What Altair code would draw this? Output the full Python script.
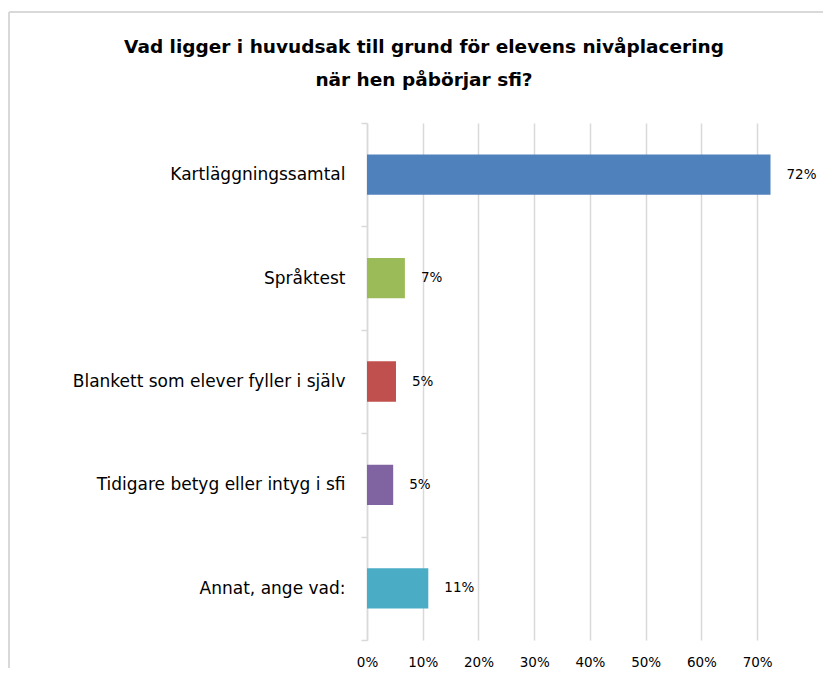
import altair as alt
import pandas as pd

categories = [
    "Kartläggningssamtal",
    "Språktest",
    "Blankett som elever fyller i själv",
    "Tidigare betyg eller intyg i sfi",
    "Annat, ange vad:",
]
values = [0.724, 0.068, 0.052, 0.047, 0.110]
colors = ["#4F81BD", "#9BBB59", "#C0504D", "#8064A2", "#4BACC6"]
x_ticks = [0.0, 0.1, 0.2, 0.3, 0.4, 0.5, 0.6, 0.7]
title_lines = [
    "Vad ligger i huvudsak till grund för elevens nivåplacering",
    "när hen påbörjar sfi?",
]

df = pd.DataFrame({"cat": categories, "val": values})

FONT = "DejaVu Sans"
GRID = "#d9d9d9"

y_enc = alt.Y(
    "cat:N",
    sort=categories,
    title=None,
    scale=alt.Scale(paddingInner=0, paddingOuter=0),
    axis=alt.Axis(
        labelFont=FONT,
        labelFontSize=17,
        labelColor="#000000",
        labelPadding=16,
        tickSize=6,
        tickColor=GRID,
        tickWidth=1.5,
        tickBand="extent",
        domainColor=GRID,
        domainWidth=1.5,
        grid=False,
        labelLimit=400,
    ),
)

x_enc = alt.X(
    "val:Q",
    title=None,
    scale=alt.Scale(domain=[0, 0.75], nice=False),
    axis=alt.Axis(
        values=x_ticks,
        format=".0%",
        labelFont=FONT,
        labelFontSize=13.5,
        labelColor="#000000",
        labelPadding=15,
        labelFlush=False,
        ticks=False,
        domain=False,
        grid=True,
        gridColor=GRID,
        gridWidth=1.5,
    ),
)

bars = alt.Chart(df).mark_bar(height={"band": 0.39}).encode(
    x=x_enc,
    y=y_enc,
    color=alt.Color("cat:N", scale=alt.Scale(domain=categories, range=colors), legend=None),
)

labels = alt.Chart(df).mark_text(
    align="left", baseline="middle", dx=16, font=FONT, fontSize=13.5, color="#000000"
).encode(
    x=alt.X("val:Q"),
    y=alt.Y("cat:N", sort=categories),
    text=alt.Text("val:Q", format=".0%"),
)

title1 = alt.Chart(pd.DataFrame({"t": [title_lines[0]]})).mark_text(
    align="center", baseline="alphabetic", font=FONT, fontSize=18.5,
    fontWeight="bold", color="#000000", clip=False,
).encode(text="t:N", x=alt.value(57), y=alt.value(-70))

title2 = alt.Chart(pd.DataFrame({"t": [title_lines[1]]})).mark_text(
    align="center", baseline="alphabetic", font=FONT, fontSize=18.5,
    fontWeight="bold", color="#000000", clip=False,
).encode(text="t:N", x=alt.value(57), y=alt.value(-37))

frame_left = alt.Chart(df).mark_rule(color=GRID, strokeWidth=1.5, clip=False).encode(
    x=alt.value(-358), y=alt.value(-111), y2=alt.value(700)
)
frame_top = alt.Chart(df).mark_rule(color=GRID, strokeWidth=1.5, clip=False).encode(
    y=alt.value(-111), x=alt.value(-358), x2=alt.value(900)
)

chart = alt.layer(frame_left, frame_top, bars, labels, title1, title2).properties(
    width=418,
    height=517,
    autosize="none",
    padding={"left": 359, "top": 115, "right": 38, "bottom": 28},
).configure_view(stroke=None)

chart.save("out.html", embed_options={"renderer": "svg", "actions": False})
